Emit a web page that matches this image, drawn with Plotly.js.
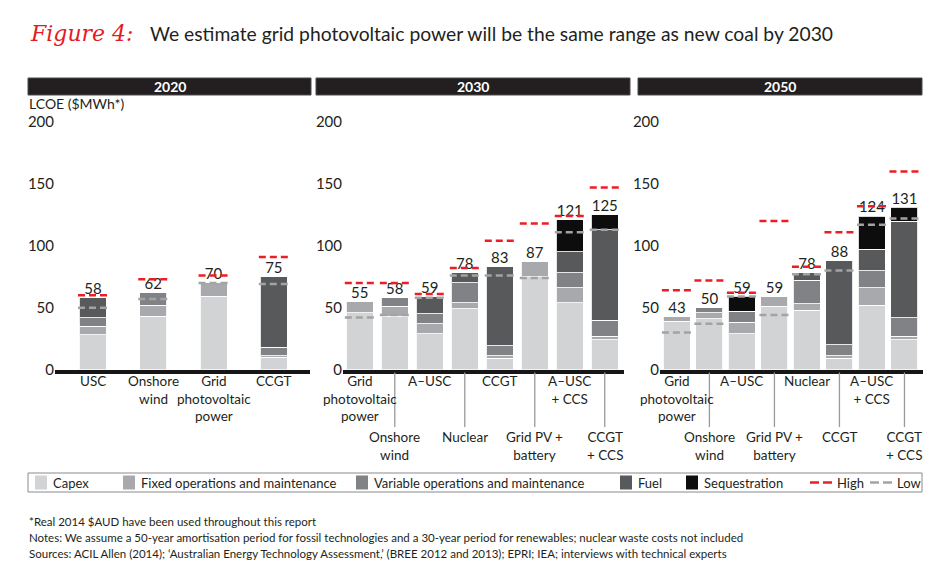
<!DOCTYPE html>
<html><head><meta charset="utf-8">
<script src="https://cdn.plot.ly/plotly-3.0.1.min.js"></script>
<style>html,body{margin:0;padding:0;background:#fff}#chart{width:950px;height:581px}</style>
</head><body><div id="chart"></div>
<script>
// ---------- DATA ----------
const years = ['2020', '2030', '2050'];

const cats2020 = ['USC', 'Onshore<br>wind', 'Grid<br>photovoltaic<br>power', 'CCGT'];
const capex2020 = [28, 43, 59, 10];
const fixed2020 = [7, 9, 11, 1];
const variable2020 = [7, 10, 0, 7];
const fuel2020 = [16, 0, 0, 57];
const seq2020 = [0, 0, 0, 0];
const total2020 = [58, 62, 70, 75];
const high2020 = [60, 73, 76, 91];
const low2020 = [50, 57, 70, 69];

const cats2030 = ['Grid<br>photovoltaic<br>power', 'Onshore<br>wind', 'A–USC', 'Nuclear', 'CCGT', 'Grid PV +<br>battery', 'A–USC<br>+ CCS', 'CCGT<br>+ CCS'];
const capex2030 = [46, 43, 29, 49, 9, 75, 54, 24];
const fixed2030 = [9, 8, 8, 5, 2, 12, 12, 3];
const variable2030 = [0, 7, 8, 16, 8, 0, 12, 13];
const fuel2030 = [0, 0, 14, 8, 64, 0, 17, 73];
const seq2030 = [0, 0, 0, 0, 0, 0, 26, 12];
const total2030 = [55, 58, 59, 78, 83, 87, 121, 125];
const high2030 = [70, 70, 61, 82, 104, 118, 124, 147];
const low2030 = [42, 44, 58, 76, 76, 74, 111, 113];

const cats2050 = ['Grid<br>photovoltaic<br>power', 'Onshore<br>wind', 'A–USC', 'Grid PV +<br>battery', 'Nuclear', 'CCGT', 'A–USC<br>+ CCS', 'CCGT<br>+ CCS'];
const capex2050 = [39, 41, 29, 51, 48, 9, 52, 24];
const fixed2050 = [4, 5, 9, 8, 5, 2, 14, 3];
const variable2050 = [0, 4, 9, 0, 19, 9, 14, 15];
const fuel2050 = [0, 0, 0, 0, 6, 68, 17, 78];
const seq2050 = [0, 0, 12, 0, 0, 0, 27, 11];
const total2050 = [43, 50, 59, 59, 78, 88, 124, 131];
const high2050 = [64, 72, 62, 120, 83, 111, 132, 160];
const low2050 = [30, 37, 59, 44, 77, 80, 117, 122];

const segmentNames = ['Capex', 'Fixed operations and maintenance', 'Variable operations and maintenance', 'Fuel', 'Sequestration'];
const yTicks = [0, 50, 100, 150, 200];

const titleLead = 'Figure 4:';
const titleText = 'We estimate grid photovoltaic power will be the same range as new coal by 2030';
const yLabel = 'LCOE ($MWh*)';
const notes = [
  '*Real 2014 $AUD have been used throughout this report',
  'Notes: We assume a 50-year amortisation period for fossil technologies and a 30-year period for renewables; nuclear waste costs not included',
  'Sources: ACIL Allen (2014); ‘Australian Energy Technology Assessment,’ (BREE 2012 and 2013); EPRI; IEA; interviews with technical experts'
];

// ---------- STYLE / LAYOUT ----------
const W = 950, H = 581;
const FONT = 'Lato, "Open Sans", sans-serif';
const INK = '#231f20';
const segColors = ['#d1d3d4', '#a7a9ac', '#808285', '#58595b', '#0d0d0d'];
const HIGH_COLOR = '#ee1c25', LOW_COLOR = '#a3a3a3';
const px = v => v / W;
const py = v => 1 - v / H;
const Y0 = 369.5, Y200 = 122;

const panels = [
  {year: years[0], cats: cats2020, segs: [capex2020, fixed2020, variable2020, fuel2020, seq2020], total: total2020, high: high2020, low: low2020,
   dom: [55, 310], xr: [-0.63, 3.6], header: [28, 311], stagger: false},
  {year: years[1], cats: cats2030, segs: [capex2030, fixed2030, variable2030, fuel2030, seq2030], total: total2030, high: high2030, low: low2030,
   dom: [343, 624], xr: [-0.48, 7.55], header: [316, 630], stagger: true},
  {year: years[2], cats: cats2050, segs: [capex2050, fixed2050, variable2050, fuel2050, seq2050], total: total2050, high: high2050, low: low2050,
   dom: [660, 923], xr: [-0.52, 7.57], header: [638, 922], stagger: true}
];

const traces = [];
const shapes = [];
const annotations = [];
const layout = {
  width: W, height: H, margin: {l: 0, r: 0, t: 0, b: 0},
  paper_bgcolor: '#fff', plot_bgcolor: 'rgba(0,0,0,0)',
  barmode: 'stack', showlegend: false,
  font: {family: FONT, color: INK}
};

panels.forEach((p, k) => {
  const sfx = k === 0 ? '' : String(k + 1);
  const xa = 'x' + sfx, ya = 'y' + sfx;
  const pxPerUnit = (p.dom[1] - p.dom[0]) / (p.xr[1] - p.xr[0]);
  const barW = 27 / pxPerUnit;
  const hw = 15 / pxPerUnit;
  const idx = p.cats.map((_, i) => i);

  layout['xaxis' + sfx] = {
    domain: [px(p.dom[0]), px(p.dom[1])], range: p.xr, anchor: ya,
    showline: true, linewidth: 4, linecolor: '#161616', showticklabels: false,
    ticks: '', showgrid: false, zeroline: false, fixedrange: true
  };
  layout['yaxis' + sfx] = {
    domain: [py(Y0), py(Y200)], range: [0, 200], anchor: xa,
    tickvals: yTicks, ticktext: yTicks.map(String), ticks: '', showgrid: false, zeroline: false,
    showline: false, tickfont: {family: FONT, size: 15, color: INK}, fixedrange: true
  };

  p.segs.forEach((vals, s) => {
    traces.push({
      type: 'bar', x: idx, y: vals, xaxis: xa, yaxis: ya, name: segmentNames[s],
      width: barW, marker: {color: segColors[s], line: {color: 'rgba(255,255,255,0.85)', width: 1}},
      hoverinfo: 'skip'
    });
  });

  traces.push({
    type: 'scatter', mode: 'text', x: idx, y: p.total, text: p.total.map(String),
    textposition: 'top center', textfont: {family: FONT, size: 15, color: INK},
    xaxis: xa, yaxis: ya, cliponaxis: false, hoverinfo: 'skip'
  });

  const seg = vals => {
    const xs = [], ys = [];
    vals.forEach((v, i) => { xs.push(i - hw, i + hw, null); ys.push(v, v, null); });
    return {xs, ys};
  };
  const lo = seg(p.low), hi = seg(p.high);
  traces.push({type: 'scatter', mode: 'lines', x: lo.xs, y: lo.ys, xaxis: xa, yaxis: ya,
    line: {color: LOW_COLOR, width: 2.5, dash: '7px,4px'}, cliponaxis: false, hoverinfo: 'skip', connectgaps: false});
  traces.push({type: 'scatter', mode: 'lines', x: hi.xs, y: hi.ys, xaxis: xa, yaxis: ya,
    line: {color: HIGH_COLOR, width: 2.5, dash: '7px,4px'}, cliponaxis: false, hoverinfo: 'skip', connectgaps: false});

  // header band
  shapes.push({type: 'rect', xref: 'paper', yref: 'paper', x0: px(p.header[0]), x1: px(p.header[1]), y0: py(95), y1: py(78),
    fillcolor: INK, line: {color: '#4a4a4a', width: 1}});
  annotations.push({xref: 'paper', yref: 'paper', x: px((p.header[0] + p.header[1]) / 2), y: py(86.5),
    text: '<b>' + p.year + '</b>', showarrow: false, xanchor: 'center', yanchor: 'middle',
    font: {family: FONT, size: 14, color: '#fff'}});

  // category labels (staggered)
  p.cats.forEach((c, i) => {
    const lower = p.stagger && i % 2 === 1;
    annotations.push({xref: xa, yref: 'paper', x: i, y: py(lower ? 428 : 372), text: c, showarrow: false,
      xanchor: 'center', yanchor: 'top', align: 'center', borderpad: 0,
      font: {family: FONT, size: 13.5, color: INK}});
    if (lower) {
      shapes.push({type: 'line', xref: xa, yref: 'paper', x0: i, x1: i, y0: py(Y0 + 3), y1: py(427),
        line: {color: '#9a9a9a', width: 1.3}});
    }
  });
});

// titles
annotations.push({xref: 'paper', yref: 'paper', x: px(28), y: py(33), text: titleLead, showarrow: false,
  xanchor: 'left', yanchor: 'middle', font: {family: '"DejaVu Serif", serif', size: 22, color: '#e31b23', style: 'italic'}});
annotations.push({xref: 'paper', yref: 'paper', x: px(148), y: py(33), text: titleText, showarrow: false,
  xanchor: 'left', yanchor: 'middle', font: {family: FONT, size: 19.3, color: INK}});
annotations.push({xref: 'paper', yref: 'paper', x: px(27), y: py(104), text: yLabel, showarrow: false,
  xanchor: 'left', yanchor: 'middle', font: {family: FONT, size: 14, color: INK}});

// legend (manual)
const LY = 482.5;
shapes.push({type: 'rect', xref: 'paper', yref: 'paper', x0: px(28), x1: px(922), y0: py(492), y1: py(473),
  fillcolor: 'rgba(0,0,0,0)', line: {color: '#8a8a8a', width: 1}});
const legX = [35, 123, 356, 620, 686];
segmentNames.forEach((n, s) => {
  shapes.push({type: 'rect', xref: 'paper', yref: 'paper', x0: px(legX[s]), x1: px(legX[s] + 12), y0: py(LY + 7), y1: py(LY - 7),
    fillcolor: segColors[s], line: {width: 0}});
  annotations.push({xref: 'paper', yref: 'paper', x: px(legX[s] + 16), y: py(LY), text: n, showarrow: false,
    xanchor: 'left', yanchor: 'middle', font: {family: FONT, size: 13, color: INK}});
});
[[810, HIGH_COLOR, 'High'], [870, LOW_COLOR, 'Low']].forEach(([x0, col, label]) => {
  [0, 13].forEach(off => {
    shapes.push({type: 'line', xref: 'paper', yref: 'paper', x0: px(x0 + off), x1: px(x0 + off + 9), y0: py(LY), y1: py(LY),
      line: {color: col, width: 2.5}});
  });
  annotations.push({xref: 'paper', yref: 'paper', x: px(x0 + 25), y: py(LY), text: label, showarrow: false,
    xanchor: 'left', yanchor: 'middle', font: {family: FONT, size: 13, color: INK}});
});

// notes
notes.forEach((t, i) => {
  annotations.push({xref: 'paper', yref: 'paper', x: px(27), y: py(521 + i * 16), text: t, showarrow: false,
    xanchor: 'left', yanchor: 'middle', font: {family: FONT, size: 11.5, color: INK}});
});

layout.shapes = shapes;
layout.annotations = annotations;

Plotly.newPlot('chart', traces, layout, {staticPlot: true, displayModeBar: false});
</script>
</body></html>
